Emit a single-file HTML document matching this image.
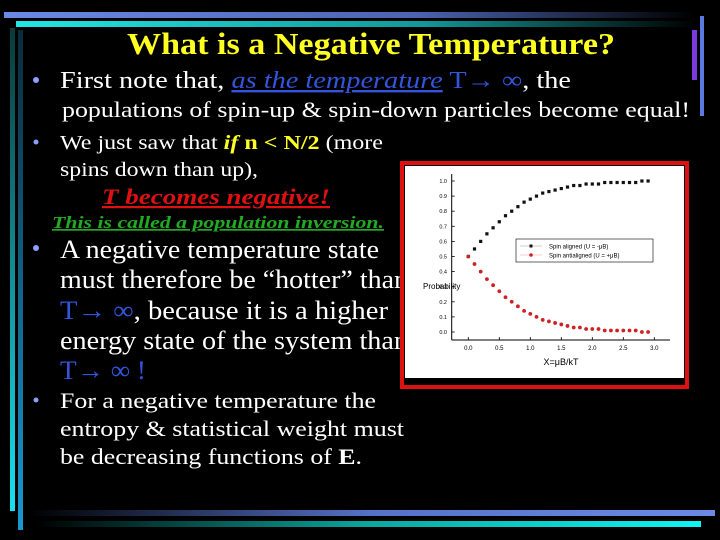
<!DOCTYPE html>
<html><head><meta charset="utf-8"><style>
html,body{margin:0;padding:0;background:#000;}
svg{display:block;}
text{font-family:"Liberation Serif",serif;}
</style></head><body>
<svg id="s" width="720" height="540" viewBox="0 0 720 540" xmlns="http://www.w3.org/2000/svg">
<defs>
<linearGradient id="gb" x1="0" x2="1"><stop offset="0" stop-color="#6a8ae6"/><stop offset="0.6" stop-color="#4a64b0"/><stop offset="1" stop-color="#000"/></linearGradient>
<linearGradient id="gc" x1="0" x2="1"><stop offset="0" stop-color="#22e6e6"/><stop offset="0.6" stop-color="#129898"/><stop offset="1" stop-color="#000"/></linearGradient>
<linearGradient id="gb2" x1="0" x2="1"><stop offset="0" stop-color="#000"/><stop offset="0.5" stop-color="#5472c8"/><stop offset="1" stop-color="#6a8ae6"/></linearGradient>
<linearGradient id="gc2" x1="0" x2="1"><stop offset="0" stop-color="#000"/><stop offset="0.5" stop-color="#0aa8a0"/><stop offset="1" stop-color="#10f4f4"/></linearGradient>
<linearGradient id="gv" x1="0" y1="0" x2="0" y2="1"><stop offset="0" stop-color="#0a3a3a"/><stop offset="1" stop-color="#18e0f0"/></linearGradient>
<linearGradient id="gv2" x1="0" y1="0" x2="0" y2="1"><stop offset="0" stop-color="#0a2a3a"/><stop offset="1" stop-color="#1898d0"/></linearGradient>
</defs>
<g>
<rect x="4" y="12" width="690" height="6" fill="url(#gb)"/>
<rect x="16" y="21" width="680" height="6" fill="url(#gc)"/>
<rect x="10" y="28" width="5" height="483" fill="url(#gv)"/>
<rect x="18" y="30" width="5" height="500" fill="url(#gv2)"/>
<rect x="700" y="16" width="4" height="100" fill="#5a7ae0"/>
<rect x="692" y="30" width="5" height="50" fill="#7a3ae0"/>
<rect x="28" y="510" width="687" height="6" fill="url(#gb2)"/>
<rect x="36" y="521" width="665" height="6" fill="url(#gc2)"/>
</g>
<text x="127" y="54" textLength="488" lengthAdjust="spacingAndGlyphs" font-size="31" font-weight="bold" fill="#ffff22">What is a Negative Temperature?</text>
<g fill="#fff">
<circle cx="36" cy="80" r="3" fill="#8aa0ff"/>
<text x="60" y="88" font-size="24" textLength="511" lengthAdjust="spacingAndGlyphs">First note that, <tspan fill="#3355dd" font-style="italic" text-decoration="underline">as the temperature</tspan> <tspan fill="#3355dd">T→ ∞</tspan>, the</text>
<text x="62" y="117" font-size="22" textLength="628" lengthAdjust="spacingAndGlyphs">populations of spin-up &amp; spin-down particles become equal!</text>
<circle cx="36" cy="142" r="2.5" fill="#8aa0ff"/>
<text x="60" y="149" font-size="20" textLength="323" lengthAdjust="spacingAndGlyphs">We just saw that <tspan fill="#ffff22" font-weight="bold" font-style="italic">if</tspan><tspan fill="#ffff22" font-weight="bold"> n &lt; N/2</tspan> (more</text>
<text x="60" y="176" font-size="20" textLength="198" lengthAdjust="spacingAndGlyphs">spins down than up),</text>
<text x="102" y="204" font-size="22" textLength="228" lengthAdjust="spacingAndGlyphs" font-weight="bold" font-style="italic" fill="#dd1111" text-decoration="underline">T becomes negative!</text>
<text x="52" y="228" font-size="17" textLength="332" lengthAdjust="spacingAndGlyphs" font-weight="bold" font-style="italic" fill="#22aa22" text-decoration="underline">This is called a population inversion.</text>
<circle cx="36" cy="248" r="3" fill="#8aa0ff"/>
<text x="60" y="258" font-size="26" textLength="319" lengthAdjust="spacingAndGlyphs">A negative temperature state</text>
<text x="60" y="288" font-size="26" textLength="348" lengthAdjust="spacingAndGlyphs">must therefore be “hotter” than</text>
<text x="60" y="319" font-size="26" textLength="328" lengthAdjust="spacingAndGlyphs"><tspan fill="#3355dd">T→ ∞</tspan>,  because it is a higher</text>
<text x="60" y="349" font-size="26" textLength="348" lengthAdjust="spacingAndGlyphs">energy state of the system than</text>
<text x="60" y="379" font-size="26" textLength="86" lengthAdjust="spacingAndGlyphs" fill="#3355dd">T→ ∞ !</text>
<circle cx="36" cy="400" r="2.5" fill="#8aa0ff"/>
<text x="60" y="408" font-size="22" textLength="316" lengthAdjust="spacingAndGlyphs">For a negative temperature the</text>
<text x="60" y="436" font-size="22" textLength="344" lengthAdjust="spacingAndGlyphs">entropy &amp; statistical weight must</text>
<text x="60" y="464" font-size="22" textLength="302" lengthAdjust="spacingAndGlyphs">be decreasing functions of <tspan font-weight="bold">E</tspan>.</text>
</g>
<g id="chart">
<rect x="402" y="163" width="285" height="224" fill="#000" stroke="#dd1111" stroke-width="4"/>
<rect x="405" y="166" width="279" height="212" fill="#fff"/>
</g>
</svg>
<script>
const xVals=[0,0.1,0.2,0.3,0.4,0.5,0.6,0.7,0.8,0.9,1.0,1.1,1.2,1.3,1.4,1.5,1.6,1.7,1.8,1.9,2.0,2.1,2.2,2.3,2.4,2.5,2.6,2.7,2.8,2.9];
const aligned=[0.50,0.55,0.60,0.65,0.69,0.73,0.77,0.80,0.83,0.86,0.88,0.90,0.92,0.93,0.94,0.95,0.96,0.97,0.97,0.98,0.98,0.98,0.99,0.99,0.99,0.99,0.99,0.99,1.00,1.00];
const antialigned=[0.50,0.45,0.40,0.35,0.31,0.27,0.23,0.20,0.17,0.14,0.12,0.10,0.08,0.07,0.06,0.05,0.04,0.03,0.03,0.02,0.02,0.02,0.01,0.01,0.01,0.01,0.01,0.01,0.00,0.00];
const xTicks=[0,0.5,1.0,1.5,2.0,2.5,3.0];
const xTickLabels=["0.0","0.5","1.0","1.5","2.0","2.5","3.0"];
const yTicks=[0,0.1,0.2,0.3,0.4,0.5,0.6,0.7,0.8,0.9,1.0];
const yTickLabels=["0.0","0.1","0.2","0.3","0.4","0.5","0.6","0.7","0.8","0.9","1.0"];
const NS="http://www.w3.org/2000/svg";
const g=document.getElementById('chart');
const X=v=>468.3+v*(654.3-468.3)/3;
const Y=v=>332-v*(332-181);
function mk(t,a,txt){const e=document.createElementNS(NS,t);for(const k in a)e.setAttribute(k,a[k]);if(txt!==undefined)e.textContent=txt;g.appendChild(e);return e;}
let ax=mk('line',{x1:451.7,y1:174,x2:451.7,y2:340,stroke:'#000','stroke-width':1});


let bx=mk('line',{x1:451.7,y1:340,x2:670,y2:340,stroke:'#000','stroke-width':1});


yTicks.forEach((v,i)=>{
 mk('line',{x1:451.7,y1:Y(v),x2:454.7,y2:Y(v),stroke:'#000','stroke-width':0.8});
 const t=mk('text',{x:447,y:Y(v)+2,'font-size':5.5,'text-anchor':'end',fill:'#000',style:'font-family:Liberation Sans,sans-serif'},yTickLabels[i]);
 
 
});
xTicks.forEach((v,i)=>{
 mk('line',{x1:X(v),y1:340,x2:X(v),y2:337,stroke:'#000','stroke-width':0.8});
 const t=mk('text',{x:X(v),y:350,'font-size':6,'text-anchor':'middle',fill:'#000',style:'font-family:Liberation Sans,sans-serif'},xTickLabels[i]);
 
 
});
let xt=mk('text',{x:561,y:365,'font-size':9,'text-anchor':'middle',fill:'#000',style:'font-family:Liberation Sans,sans-serif'},'X=μB/kT');


let yt=mk('text',{x:423,y:289,'font-size':8,fill:'#000',style:'font-family:Liberation Sans,sans-serif'},'Probability');


xVals.forEach((x,i)=>{
 const r=mk('rect',{x:X(x)-1.6,y:Y(aligned[i])-1.6,width:3.2,height:3.2,fill:'#111'});
 
 
 const c=mk('circle',{cx:X(x),cy:Y(antialigned[i]),r:1.9,fill:'#cc2222'});
 
 
});
const lg=mk('rect',{x:516,y:239,width:137,height:23,fill:'#fff',stroke:'#000','stroke-width':0.6});


mk('line',{x1:520,y1:246,x2:542,y2:246,stroke:'#999','stroke-width':0.5});
mk('rect',{x:529.5,y:244.5,width:3,height:3,fill:'#111'});
mk('line',{x1:520,y1:255,x2:542,y2:255,stroke:'#e99','stroke-width':0.5});
mk('circle',{cx:531,cy:255,r:1.8,fill:'#cc2222'});
let l1=mk('text',{x:549,y:248.5,'font-size':6,fill:'#000',style:'font-family:Liberation Sans,sans-serif'},'Spin aligned (U = -μB)');


let l2=mk('text',{x:549,y:257.5,'font-size':6,fill:'#000',style:'font-family:Liberation Sans,sans-serif'},'Spin antialigned (U = +μB)');


</script>
</body></html>
